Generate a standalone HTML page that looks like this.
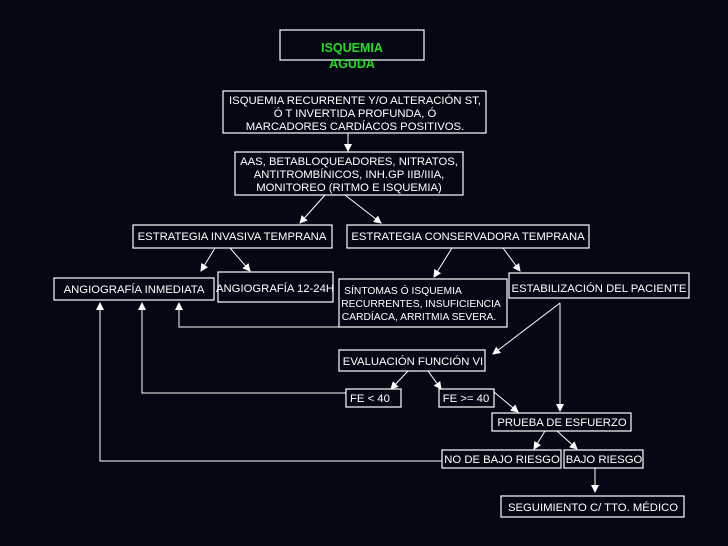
<!DOCTYPE html>
<html><head><meta charset="utf-8"><style>
html,body{margin:0;padding:0;background:#050814;}
svg{display:block}
text{font-family:"Liberation Sans",sans-serif;fill:#fff;font-size:11.3px}
</style></head><body>
<svg width="728" height="546" viewBox="0 0 728 546" xmlns="http://www.w3.org/2000/svg">
<defs><marker id="a" markerWidth="8" markerHeight="8" refX="7" refY="4" orient="auto" markerUnits="userSpaceOnUse"><path d="M0,0 L8,4 L0,8 z" fill="#fff"/></marker></defs>
<rect width="728" height="546" fill="#050814"/>
<g fill="none" stroke="#fff" stroke-width="1.2">
<rect x="280" y="30" width="144" height="30"/>
<rect x="223" y="91" width="263" height="42"/>
<rect x="235" y="152" width="228" height="43"/>
<rect x="133" y="225" width="199" height="23"/>
<rect x="347" y="225" width="242" height="23"/>
<rect x="54" y="278" width="160" height="22"/>
<rect x="218" y="272" width="115" height="30"/>
<rect x="339" y="279" width="168" height="48"/>
<rect x="509" y="273" width="180" height="25"/>
<rect x="339" y="350" width="146" height="21"/>
<rect x="346" y="389" width="55" height="18"/>
<rect x="439" y="389" width="55" height="18"/>
<rect x="492" y="413" width="139" height="18"/>
<rect x="442" y="450" width="119" height="18"/>
<rect x="564" y="450" width="79" height="18"/>
<rect x="501" y="496" width="183" height="21"/>
</g>
<g stroke="#fff" stroke-width="1" fill="none" marker-end="url(#a)">
<line x1="348" y1="133" x2="348" y2="151"/>
<line x1="325" y1="195" x2="300" y2="223"/>
<line x1="345" y1="195" x2="381" y2="223"/>
<line x1="215" y1="248" x2="201" y2="271"/>
<line x1="230" y1="248" x2="250" y2="271"/>
<line x1="452" y1="248" x2="434" y2="277"/>
<line x1="503" y1="248" x2="520" y2="271"/>
<polyline points="339,327 179,327 179,303"/>
<polyline points="346,393 142,393 142,303"/>
<polyline points="442,461 100,461 100,303"/>
<line x1="560" y1="303" x2="493" y2="354"/>
<line x1="560" y1="303" x2="560" y2="411"/>
<line x1="408" y1="371" x2="391" y2="389"/>
<line x1="428" y1="371" x2="441" y2="389"/>
<line x1="494" y1="392" x2="518" y2="412"/>
<line x1="545" y1="431" x2="534" y2="449"/>
<line x1="557" y1="431" x2="577" y2="449"/>
<line x1="595" y1="468" x2="595" y2="492"/>
</g>
<g text-anchor="middle">
<text x="352" y="52" style="fill:#22dd22;font-weight:bold;font-size:12.5px">ISQUEMIA</text>
<text x="352" y="68" style="fill:#22dd22;font-weight:bold;font-size:12.5px">AGUDA</text>
<text x="355" y="104">ISQUEMIA RECURRENTE Y/O ALTERACIÓN ST,</text>
<text x="355" y="117">Ó T INVERTIDA PROFUNDA, Ó</text>
<text x="355" y="130">MARCADORES CARDÍACOS POSITIVOS.</text>
<text x="349" y="165">AAS, BETABLOQUEADORES, NITRATOS,</text>
<text x="349" y="178">ANTITROMBÍNICOS, INH.GP IIB/IIIA,</text>
<text x="349" y="191">MONITOREO (RITMO E ISQUEMIA)</text>
<text x="232" y="240">ESTRATEGIA INVASIVA TEMPRANA</text>
<text x="468" y="240">ESTRATEGIA CONSERVADORA TEMPRANA</text>
<text x="134" y="293">ANGIOGRAFÍA INMEDIATA</text>
<text x="275" y="292">ANGIOGRAFÍA 12-24H</text>
<g style="font-size:10.3px">
<text x="403" y="294" style="font-size:10.3px">SÍNTOMAS Ó ISQUEMIA</text>
<text x="421" y="307" style="font-size:10.3px">RECURRENTES, INSUFICIENCIA</text>
<text x="419" y="320" style="font-size:10.3px">CARDÍACA, ARRITMIA SEVERA.</text>
</g>
<text x="599" y="292">ESTABILIZACIÓN DEL PACIENTE</text>
<text x="413" y="365">EVALUACIÓN FUNCIÓN VI</text>
<text x="350" y="402" text-anchor="start">FE &lt; 40</text>
<text x="466" y="402">FE &gt;= 40</text>
<text x="562" y="426">PRUEBA DE ESFUERZO</text>
<text x="502" y="463">NO DE BAJO RIESGO</text>
<text x="604" y="463">BAJO RIESGO</text>
<text x="593" y="511">SEGUIMIENTO C/ TTO. MÉDICO</text>
</g>
</svg>
</body></html>
